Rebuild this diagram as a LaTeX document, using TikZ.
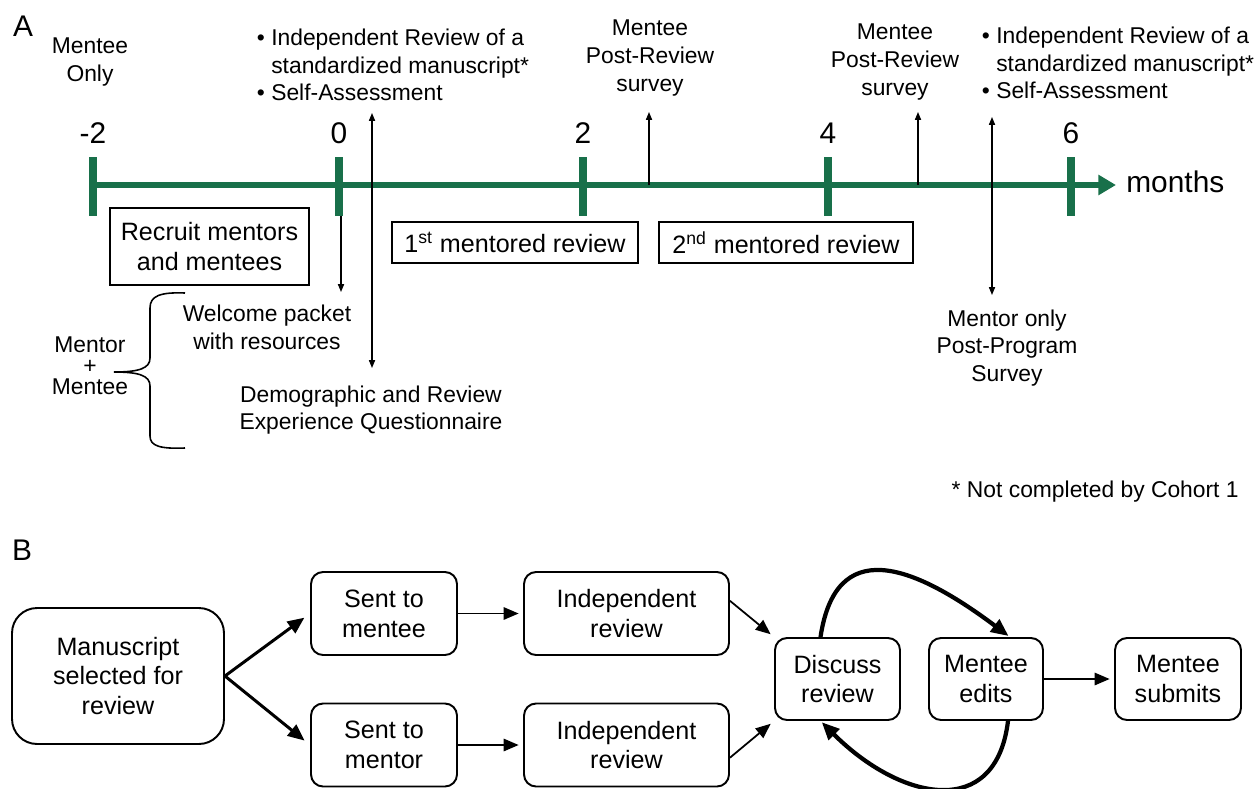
\documentclass[tikz,border=0pt]{standalone}
\usepackage{fontspec}
\setmainfont{Liberation Sans}
\usetikzlibrary{arrows.meta}
\definecolor{tlgreen}{RGB}{24,112,74}

\begin{document}
\begin{tikzpicture}[x=0.02cm, y=-0.02cm,
    note/.style={align=center, inner sep=0pt, font=\fontsize{13}{15.8}\selectfont},
    bullets/.style={align=left, inner sep=0pt, font=\fontsize{13}{15.8}\selectfont},
    panel/.style={inner sep=0pt, font=\fontsize{17}{20}\selectfont},
    month/.style={inner sep=0pt, font=\fontsize{17}{20}\selectfont},
    mtick/.style={tlgreen, line width=5pt},
    phase/.style={draw, line width=1.1pt, inner sep=0pt, align=center, font=\fontsize{14.3}{17.5}\selectfont},
    stage/.style={draw, line width=1.1pt, rounded corners=0.24cm, inner sep=0pt, align=center, font=\fontsize{14.3}{17}\selectfont},
    callout/.style={line width=0.7pt, -{Triangle[length=4.5pt,width=3.5pt]}},
    callouts/.style={line width=0.7pt, {Triangle[length=4.5pt,width=3.5pt]}-{Triangle[length=4.5pt,width=3.5pt]}},
    flowarrow/.style={line width=1pt, -{Triangle[length=8.5pt,width=7pt]}, shorten >=2.5pt},
    branch/.style={line width=1.7pt, -{Triangle[length=9.5pt,width=8pt]}, shorten >=4pt},
    backloop/.style={line width=2.4pt, -{Triangle[length=10pt,width=8.5pt]}, shorten >=1pt}]

\useasboundingbox (0,0) rectangle (1257,788);

% panel labels
\node[panel] (labA) at (23,26) {A};
\node[panel] (labB) at (22,550) {B};

% timeline with month ticks
\coordinate (tstart) at (93,185);
\coordinate (tend) at (1116,185);
\draw[tlgreen, line width=3.4pt, -{Triangle[length=10pt,width=11pt]}] (tstart) -- (tend);
\foreach \x/\m/\i in {93/-2/0, 339/0/1, 583/2/2, 828/4/3, 1071/6/4} {
  \draw[mtick] (\x,157) -- (\x,216);
  \node[month] (m\i) at (\x,133) {\m};
}
\node[month, anchor=west] (unit) at (1126,182) {months};

% text above the timeline
\node[note] (only) at (90,62) {Mentee\\Only};
\node[bullets] (tasks0) at (393,65) {\textbullet\ Independent Review of a\\\hphantom{\textbullet\ }standardized manuscript*\\\textbullet\ Self-Assessment};
\node[note] (post1) at (650,58) {Mentee\\Post-Review\\survey};
\node[note] (post2) at (895,62) {Mentee\\Post-Review\\survey};
\node[bullets] (tasks6) at (1118,63) {\textbullet\ Independent Review of a\\\hphantom{\textbullet\ }standardized manuscript*\\\textbullet\ Self-Assessment};

% phases below the timeline
\node[phase, minimum width=3.98cm, minimum height=1.54cm] (recruit) at (209.5,246.5) {Recruit mentors\\and mentees};
\node[phase, minimum width=4.92cm, minimum height=0.82cm] (rev1) at (515,242.5) {1\textsuperscript{st} mentored review};
\node[phase, minimum width=5.08cm, minimum height=0.82cm] (rev2) at (786,242.5) {2\textsuperscript{nd} mentored review};

% text below the timeline
\node[note] (welcome) at (267,327) {Welcome packet\\with resources};
\node[note] (demo) at (371,410) {Demographic and Review\\Experience Questionnaire};
\node[note, font=\fontsize{13}{12}\selectfont] (pair) at (90,366) {Mentor\\+\\Mentee};
\node[note] (mentoronly) at (1007,348) {Mentor only\\Post-Program\\Survey};
\node[note, anchor=east] (foot) at (1239,492) {* Not completed by Cohort 1};

% brace for mentor + mentee
\draw[line width=0.9pt] (185,293) .. controls (160,292) and (150,296) .. (150,308) -- (150,358)
  .. controls (150,368) and (140,372) .. (114,372)
  .. controls (140,372) and (150,376) .. (150,386) -- (150,436)
  .. controls (150,446) and (160,449) .. (185,448);

% arrow ends
\coordinate (a0) at (341,216);
\coordinate (a0b) at (341,292);
\coordinate (d0a) at (372,113);
\coordinate (d0b) at (372,368);
\coordinate (s1) at (649,185);
\coordinate (s1t) at (649,112);
\coordinate (s2) at (918,185);
\coordinate (s2t) at (918,112);
\coordinate (d6a) at (992,117);
\coordinate (d6b) at (992,295);

\draw[callout] (a0) -- (a0b);
\draw[callouts] (d0a) -- (d0b);
\draw[callout] (s1) -- (s1t);
\draw[callout] (s2) -- (s2t);
\draw[callouts] (d6a) -- (d6b);

% review flow
\node[stage, rounded corners=0.5cm, minimum width=4.24cm, minimum height=2.72cm] (ms) at (118,676) {Manuscript\\selected for\\review};
\node[stage, minimum width=2.92cm, minimum height=1.66cm] (tomentee) at (384,613.5) {Sent to\\mentee};
\node[stage, minimum width=2.92cm, minimum height=1.66cm] (tomentor) at (384,745) {Sent to\\mentor};
\node[stage, minimum width=4.1cm, minimum height=1.66cm] (indmentee) at (626.5,613.5) {Independent\\review};
\node[stage, minimum width=4.1cm, minimum height=1.66cm] (indmentor) at (626.5,745) {Independent\\review};
\node[stage, minimum width=2.5cm, minimum height=1.64cm] (discuss) at (837.5,679) {Discuss\\review};
\node[stage, minimum width=2.28cm, minimum height=1.64cm] (edits) at (986,679) {Mentee\\edits};
\node[stage, minimum width=2.52cm, minimum height=1.64cm] (submits) at (1178,679) {Mentee\\submits};

\draw[branch] (ms.east) -- (tomentee.west);
\draw[branch] (ms.east) -- (tomentor.west);
\draw[flowarrow] (tomentee) -- (indmentee);
\draw[flowarrow] (tomentor) -- (indmentor);
\draw[flowarrow] (indmentee.7) -- (discuss.north west);
\draw[flowarrow] (indmentor.-7) -- (discuss.south west);
\draw[flowarrow] (edits) -- (submits);

% edit loop
\draw[backloop] ([xshift=-0.34cm]discuss.north) .. controls +(15,-100) and +(-100,-75) .. ([xshift=0.48cm]edits.north);
\draw[backloop] ([xshift=0.44cm]edits.south) .. controls +(-12,100) and +(80,80) .. ([xshift=-0.34cm]discuss.south);

\end{tikzpicture}
\end{document}
